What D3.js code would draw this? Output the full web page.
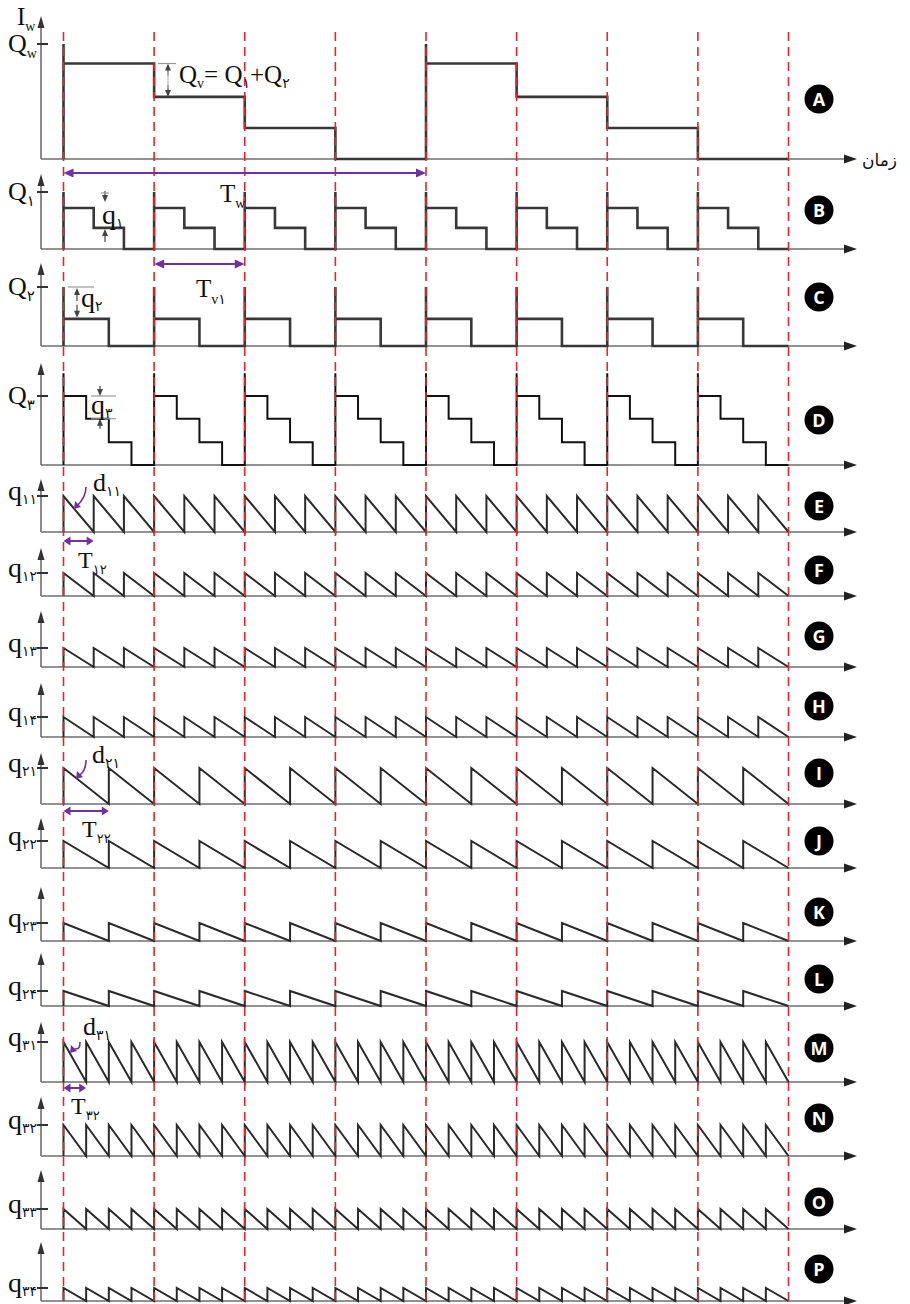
<!DOCTYPE html>
<html>
<head>
<meta charset="utf-8">
<script src="https://cdn.jsdelivr.net/npm/d3@7"></script>
<style>
  body { margin: 0; background: #fff; }
  text { font-family: "Liberation Serif", "DejaVu Sans", serif; fill: #111; }
</style>
</head>
<body>
<div id="chart"></div>
<script>
// ---- data ----
const intervals = 8;                        // number of dashed time divisions
const badgeLetters = ["A","B","C","D","E","F","G","H","I","J","K","L","M","N","O","P"];

// step panels: spike height at cycle start, then sub-step levels (relative to tick value = 1)
const levelsA = [0.83, 0.54, 0.27, 0];      // one level per interval, cycle of 4 intervals
const levelsB = [0.72, 0.37, 0];
const levelsC = [0.46, 0];
const levelsD = [1, 0.67, 0.33, 0];
const spikeA = 1, spikeB = 1, spikeC = 1, spikeD = 1.33;

// sawtooth panels: teeth per interval (peak = tick value)
const teethPerInterval = { E: 3, F: 3, G: 3, H: 3, I: 2, J: 2, K: 2, L: 2, M: 4, N: 4, O: 4, P: 4 };

// axis labels (main letter, subscript)
const axisLabels = {
  A: ["Q", "w"], B: ["Q", "۱"], C: ["Q", "۲"], D: ["Q", "۳"],
  E: ["q", "۱۱"], F: ["q", "۱۲"], G: ["q", "۱۳"], H: ["q", "۱۴"],
  I: ["q", "۲۱"], J: ["q", "۲۲"], K: ["q", "۲۳"], L: ["q", "۲۴"],
  M: ["q", "۳۱"], N: ["q", "۳۲"], O: ["q", "۳۳"], P: ["q", "۳۴"]
};

// ---- layout ----
const W = 910, H = 1304;
const axisX = 41, axisEnd = 857;
const layout = {
  A: { base: 159, top: 16, tick: 44, badge: 99 },
  B: { base: 249, top: 174, tick: 192, badge: 210 },
  C: { base: 346, top: 263, tick: 287, badge: 297 },
  D: { base: 465, top: 363, tick: 396, badge: 420 },
  E: { base: 532, top: 479, tick: 496, badge: 506 },
  F: { base: 596, top: 548, tick: 573, badge: 570 },
  G: { base: 667, top: 611, tick: 648, badge: 636 },
  H: { base: 737, top: 683, tick: 717, badge: 706 },
  I: { base: 804, top: 753, tick: 768, badge: 773 },
  J: { base: 868, top: 818, tick: 841, badge: 841 },
  K: { base: 941, top: 887, tick: 923, badge: 912 },
  L: { base: 1006, top: 953, tick: 991, badge: 979 },
  M: { base: 1082, top: 1022, tick: 1042, badge: 1048 },
  N: { base: 1156, top: 1097, tick: 1125, badge: 1118 },
  O: { base: 1229, top: 1170, tick: 1209, badge: 1202 },
  P: { base: 1301, top: 1242, tick: 1288, badge: 1269 }
};
const purple = "#7030a0";

const svg = d3.select("#chart").append("svg")
  .attr("width", W).attr("height", H);

const x = d3.scaleLinear().domain([0, intervals]).range([63.5, 788.5]);
const yScales = {};
badgeLetters.forEach(k => {
  yScales[k] = d3.scaleLinear().domain([0, 1]).range([layout[k].base, layout[k].tick]);
});

// point builders
function stepPoints(cycleLen, spike, levels) {
  const pts = [];
  const w = cycleLen / levels.length;
  for (let c = 0; c < intervals / cycleLen; c++) {
    const x0 = c * cycleLen;
    pts.push([x0, 0], [x0, spike]);
    levels.forEach((v, k) => { pts.push([x0 + k * w, v], [x0 + (k + 1) * w, v]); });
  }
  return pts;
}
function sawPoints(n) {
  const pts = [];
  for (let j = 0; j < intervals * n; j++) {
    pts.push([j / n, 0], [j / n, 1], [(j + 1) / n, 0]);
  }
  return pts;
}

const signals = {
  A: stepPoints(4, spikeA, levelsA),
  B: stepPoints(1, spikeB, levelsB),
  C: stepPoints(1, spikeC, levelsC),
  D: stepPoints(1, spikeD, levelsD)
};
Object.keys(teethPerInterval).forEach(k => { signals[k] = sawPoints(teethPerInterval[k]); });

// ---- axes ----
const gAx = svg.append("g");
badgeLetters.forEach(k => {
  const L = layout[k];
  // horizontal axis
  gAx.append("line").attr("x1", axisX).attr("x2", axisEnd - 10)
    .attr("y1", L.base).attr("y2", L.base).attr("stroke", "#6e6e6e").attr("stroke-width", 1.6);
  gAx.append("path")
    .attr("d", `M${axisEnd},${L.base} L${axisEnd - 13},${L.base - 4.5} L${axisEnd - 13},${L.base + 4.5} Z`)
    .attr("fill", "#222");
  // vertical axis
  gAx.append("line").attr("x1", axisX).attr("x2", axisX)
    .attr("y1", L.base).attr("y2", L.top + 8).attr("stroke", "#6e6e6e").attr("stroke-width", 1.6);
  gAx.append("path")
    .attr("d", `M${axisX},${L.top} L${axisX - 3.5},${L.top + 12} L${axisX + 3.5},${L.top + 12} Z`)
    .attr("fill", "#333");
  // tick
  gAx.append("line").attr("x1", axisX - 4).attr("x2", axisX + 7)
    .attr("y1", yScales[k](1)).attr("y2", yScales[k](1))
    .attr("stroke", "#333").attr("stroke-width", 2);
});

// ---- signals ----
const line = d3.line();
const gSig = svg.append("g");
badgeLetters.forEach(k => {
  const ys = yScales[k];
  const heavy = "ABC".includes(k);
  gSig.append("path")
    .attr("d", line(signals[k].map(p => [x(p[0]), ys(p[1])])))
    .attr("fill", "none")
    .attr("stroke", heavy ? "#383838" : (k === "D" ? "#111" : "#2a2a2a"))
    .attr("stroke-width", heavy ? 2.6 : 2)
    .attr("stroke-linejoin", "miter");
});

// ---- red dashed time dividers ----
svg.append("g").selectAll("line")
  .data(d3.range(intervals + 1))
  .join("line")
  .attr("x1", d => x(d)).attr("x2", d => x(d))
  .attr("y1", 32).attr("y2", H)
  .attr("stroke", "#e3262b").attr("stroke-width", 1.6)
  .attr("stroke-dasharray", "9,6");

// ---- labels ----
function subText(g, xp, yp, main, sub, size, subSize, dy) {
  const t = g.append("text").attr("x", xp).attr("y", yp).style("font-size", size + "px");
  t.append("tspan").text(main);
  t.append("tspan").attr("dy", dy).style("font-size", subSize + "px").text(sub);
  return t;
}
const gLab = svg.append("g");
badgeLetters.forEach(k => {
  const [m, s] = axisLabels[k];
  const ty = yScales[k](1);
  if (m === "Q") subText(gLab, 8, ty + 8, m, s, 26, s === "w" ? 14 : 15, 6);
  else subText(gLab, 8, ty + 4, m, s, 28, 14, 4);
});
subText(gLab, 17, 25, "I", "w", 25, 14, 6);

// time label
svg.append("text").attr("x", 862).attr("y", 166)
  .style("font-family", "'DejaVu Sans', sans-serif").style("font-size", "17px")
  .text("زمان");

// badges
const gB = svg.append("g");
badgeLetters.forEach(k => {
  gB.append("circle").attr("cx", 819).attr("cy", layout[k].badge).attr("r", 14.5).attr("fill", "#000");
  gB.append("text").attr("x", 819).attr("y", layout[k].badge + 6.5)
    .attr("text-anchor", "middle")
    .style("font-family", "'Open Sans', 'DejaVu Sans', sans-serif")
    .style("font-weight", "bold").style("font-size", "18px").style("fill", "#fff")
    .text(k);
});

// ---- annotations ----
const gAn = svg.append("g");
function dblArrow(x1, x2, yy, color, head) {
  gAn.append("line").attr("x1", x1 + head).attr("x2", x2 - head).attr("y1", yy).attr("y2", yy)
    .attr("stroke", color).attr("stroke-width", 2);
  gAn.append("path").attr("d", `M${x1},${yy} L${x1 + head + 2},${yy - 4.5} L${x1 + head + 2},${yy + 4.5} Z`).attr("fill", color);
  gAn.append("path").attr("d", `M${x2},${yy} L${x2 - head - 2},${yy - 4.5} L${x2 - head - 2},${yy + 4.5} Z`).attr("fill", color);
}
function vArrow(xx, y1, y2, color) { // arrow with tip at y2
  const dir = y2 > y1 ? 1 : -1;
  gAn.append("line").attr("x1", xx).attr("x2", xx).attr("y1", y1).attr("y2", y2 - dir * 5)
    .attr("stroke", color).attr("stroke-width", 1.2);
  gAn.append("path").attr("d", `M${xx},${y2} L${xx - 3},${y2 - dir * 7} L${xx + 3},${y2 - dir * 7} Z`).attr("fill", color);
}
function hLine(x1, x2, yy) {
  gAn.append("line").attr("x1", x1).attr("x2", x2).attr("y1", yy).attr("y2", yy)
    .attr("stroke", "#999").attr("stroke-width", 1.2);
}

// A: Q_v
const yA = yScales.A;
hLine(158, 176, yA(levelsA[0]));
vArrow(168, yA(levelsA[0]) + 12, yA(levelsA[0]), "#444");
vArrow(168, yA(levelsA[1]) - 12, yA(levelsA[1]), "#444");
gAn.append("line").attr("x1", 168).attr("x2", 168).attr("y1", yA(levelsA[0]) + 8).attr("y2", yA(levelsA[1]) - 8)
  .attr("stroke", "#bbb").attr("stroke-width", 1.2);
{
  const t = gAn.append("text").attr("x", 179).attr("y", 83).style("font-size", "25px");
  t.append("tspan").text("Q");
  t.append("tspan").attr("dy", 5).style("font-size", "14px").text("v");
  t.append("tspan").attr("dy", -5).text("= Q");
  t.append("tspan").attr("dy", 5).style("font-size", "14px").text("۱");
  t.append("tspan").attr("dy", -5).text("+Q");
  t.append("tspan").attr("dy", 5).style("font-size", "14px").text("۲");
}
// T_w
dblArrow(x(0), x(4), 173, purple, 8);
subText(gAn, 220, 202, "T", "w", 25, 14, 6);

// B: q_1
const yB = yScales.B;
vArrow(105, yB(1) - 1, yB(levelsB[0]) - 6, "#444");
hLine(101, 109, yB(1) + 1);
vArrow(105, yB(levelsB[1]) + 14, yB(levelsB[1]) + 1, "#444");
subText(gAn, 102, 224, "q", "۱", 28, 14, 4);

// C: q_2
const yC = yScales.C;
hLine(68, 94, yC(1));
vArrow(77, yC(1) + 14, yC(1) + 1, "#444");
vArrow(77, yC(levelsC[0]) - 14, yC(levelsC[0]) - 1, "#444");
subText(gAn, 81, 307, "q", "۲", 28, 14, 4);
// T_v1
dblArrow(x(1), x(2), 264, purple, 8);
subText(gAn, 196, 297, "T", "v۱", 25, 14, 7);

// D: q_3
const yD = yScales.D;
hLine(91, 116, yD(levelsD[0]));
hLine(91, 116, yD(levelsD[1]));
vArrow(100, yD(levelsD[0]) - 10, yD(levelsD[0]), "#444");
vArrow(100, yD(levelsD[1]) + 10, yD(levelsD[1]), "#444");
subText(gAn, 91, 414, "q", "۳", 28, 14, 4);

// d and T annotations for the sawtooth groups
function curveArrow(sx, sy, ex, ey) {
  gAn.append("path")
    .attr("d", `M${sx},${sy} C${sx},${sy + 10} ${ex + 6},${ey - 6} ${ex + 3},${ey - 3}`)
    .attr("fill", "none").attr("stroke", purple).attr("stroke-width", 1.6);
  gAn.append("path").attr("d", `M${ex},${ey} L${ex + 1},${ey - 8} L${ex + 7},${ey - 2} Z`).attr("fill", purple);
}
// E
subText(gAn, 93, 491, "d", "۱۱", 26, 14, 5);
curveArrow(86, 487, 74, 509);
// F
dblArrow(x(0), x(1 / 3), 541, purple, 5);
subText(gAn, 78, 568, "T", "۱۲", 24, 13, 6);
// I
subText(gAn, 92, 763, "d", "۲۱", 26, 14, 5);
curveArrow(86, 760, 76, 779);
// J
dblArrow(x(0), x(1 / 2), 811, purple, 5);
subText(gAn, 82, 837, "T", "۲۲", 24, 13, 6);
// M
subText(gAn, 83, 1035, "d", "۳۱", 26, 14, 5);
curveArrow(80, 1042, 70, 1053);
// N
dblArrow(x(0), x(1 / 4), 1088, purple, 5);
subText(gAn, 71, 1114, "T", "۳۲", 24, 13, 6);
</script>
</body>
</html>
